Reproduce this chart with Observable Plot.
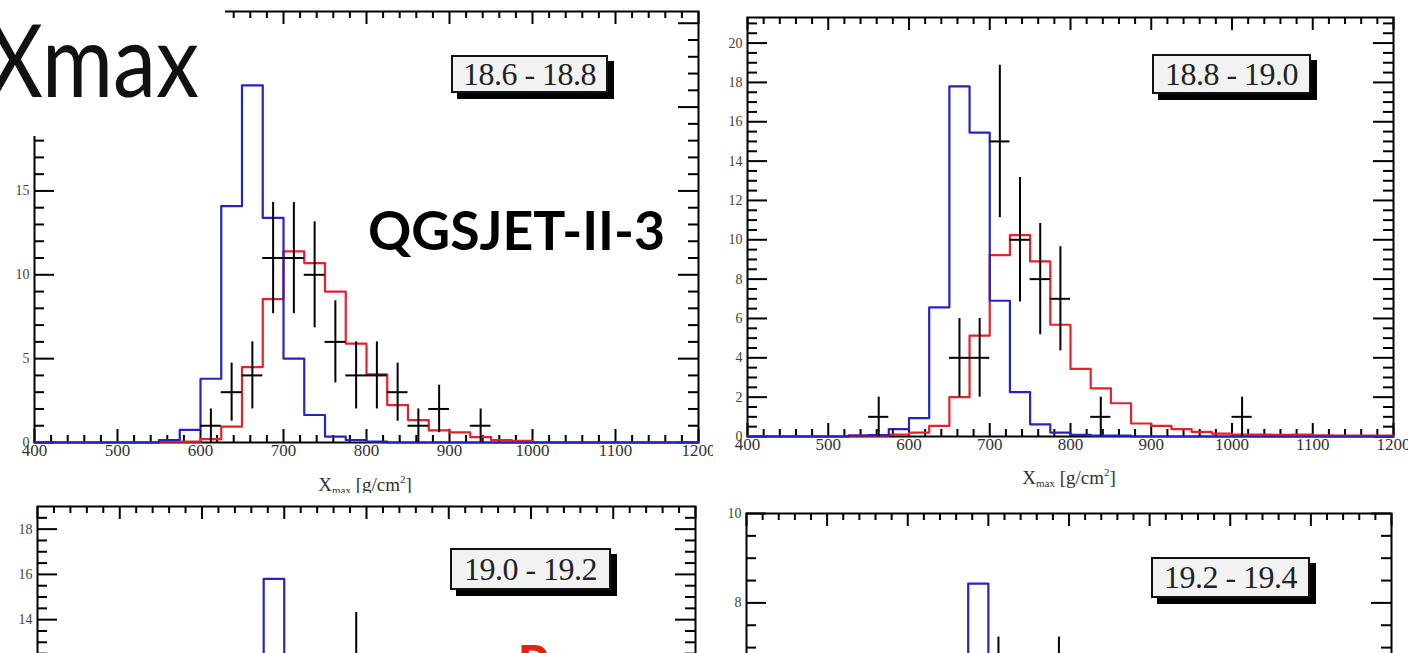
<!DOCTYPE html>
<html>
<head>
<meta charset="utf-8">
<script src="https://cdn.jsdelivr.net/npm/d3@7"></script>
<script src="https://cdn.jsdelivr.net/npm/@observablehq/plot@0.6"></script>
<style>
  html, body { margin: 0; padding: 0; background: #fff; }
  #slide { position: relative; width: 1408px; height: 653px; overflow: hidden; background: #fff; }
  .panel { position: absolute; background: #fff; }
  .panel svg { overflow: visible; display: block; max-width: none !important; }
  .xtitle { position: absolute; font-family: "Liberation Serif", "DejaVu Serif", serif; font-size: 19px; color: #333;
            transform: translateX(-50%); white-space: nowrap; line-height: 1; }
  .xtitle sub { font-size: 11px; vertical-align: -3px; }
  .xtitle sup { font-size: 11px; vertical-align: 8px; }
  .bin { position: absolute; box-sizing: border-box; border: 2px solid #111; background: #f2f2f2;
         box-shadow: 6px 6px 0 #000; font-family: "Liberation Serif", "DejaVu Serif", serif; font-size: 32px;
         color: #222; display: flex; align-items: center; justify-content: center; letter-spacing: -0.5px; }
  #overlay { position: absolute; left: 0; top: 0; pointer-events: none; }
</style>
</head>
<body>
<div id="slide"></div>
<script>
// Histogram binning in Xmax [g/cm^2]: 32 bins of 25 between 400 and 1200
const binLow = 400;
const binWidth = 25;
const xTickLabels = [400, 500, 600, 700, 800, 900, 1000, 1100, 1200];

// Energy ranges (lg E/eV) of the four panels
const rangeLabels = ["18.6 - 18.8", "18.8 - 19.0", "19.0 - 19.2", "19.2 - 19.4"];

// 18.6 - 18.8 : simulated proton (red), iron (blue), measured events (crosses)
const p1Blue = [0, 0, 0, 0, 0, 0, 0.15, 0.75, 3.8, 14.1, 21.3, 13.4, 5.0, 1.64, 0.35, 0.15,
                0.05, 0, 0, 0, 0, 0, 0, 0, 0, 0, 0, 0, 0, 0, 0, 0];
const p1Red  = [0, 0, 0, 0, 0, 0, 0.05, 0.05, 0.2, 0.95, 4.5, 8.55, 11.4, 10.7, 9.0, 5.9,
                4.07, 2.23, 1.34, 0.72, 0.6, 0.32, 0.15, 0.1, 0, 0, 0, 0, 0, 0, 0, 0];
const p1DataX = [612.5, 637.5, 662.5, 687.5, 712.5, 737.5, 762.5, 787.5, 812.5, 837.5, 862.5, 887.5, 937.5];
const p1DataN = [1, 3, 4, 11, 11, 10, 6, 4, 4, 3, 1, 2, 1];
const p1YTicks = [0, 5, 10, 15, 20, 25];

// 18.8 - 19.0
const p2Blue = [0, 0, 0, 0, 0, 0.05, 0.07, 0.37, 0.93, 6.56, 17.8, 15.45, 6.9, 2.26, 0.62, 0.2,
                0.08, 0.04, 0.04, 0, 0, 0, 0, 0, 0, 0, 0, 0, 0, 0, 0, 0];
const p2Red  = [0, 0, 0, 0, 0, 0.04, 0.04, 0.1, 0.2, 0.54, 2.0, 5.13, 9.22, 10.24, 8.9, 5.68,
                3.44, 2.45, 1.69, 0.66, 0.54, 0.37, 0.24, 0.15, 0.1, 0.1, 0.08, 0.1, 0.06, 0.05, 0.05, 0.05];
const p2DataX = [562.5, 662.5, 687.5, 712.5, 737.5, 762.5, 787.5, 837.5, 1012.5];
const p2DataN = [1, 4, 4, 15, 10, 8, 7, 1, 1];
const p2YTicks = [0, 2, 4, 6, 8, 10, 12, 14, 16, 18, 20];

// 19.0 - 19.2
const p3Blue = [0, 0, 0, 0, 0, 0, 0.05, 0.3, 1.1, 5.2, 11.6, 15.8, 9.8, 3.4, 0.9, 0.25,
                0.08, 0, 0, 0, 0, 0, 0, 0, 0, 0, 0, 0, 0, 0, 0, 0];
const p3Red  = [0, 0, 0, 0, 0, 0, 0.03, 0.08, 0.2, 0.8, 2.3, 5.4, 8.6, 9.9, 9.1, 6.8,
                4.5, 2.8, 1.7, 0.9, 0.5, 0.3, 0.15, 0.08, 0, 0, 0, 0, 0, 0, 0, 0];
const p3DataX = [662.5, 687.5, 712.5, 737.5, 762.5, 787.5, 812.5, 837.5, 862.5, 912.5];
const p3DataN = [2, 5, 8, 7, 6, 11, 5, 3, 2, 1];
const p3YTicks = [0, 2, 4, 6, 8, 10, 12, 14, 16, 18];

// 19.2 - 19.4
const p4Blue = [0, 0, 0, 0, 0, 0, 0, 0.1, 0.45, 2.9, 6.4, 8.43, 4.6, 1.5, 0.4, 0.1,
                0, 0, 0, 0, 0, 0, 0, 0, 0, 0, 0, 0, 0, 0, 0, 0];
const p4Red  = [0, 0, 0, 0, 0, 0, 0, 0, 0.1, 0.4, 1.2, 2.8, 4.3, 4.9, 4.4, 3.2,
                2.1, 1.3, 0.75, 0.4, 0.2, 0.1, 0, 0, 0, 0, 0, 0, 0, 0, 0, 0];
const p4DataX = [687.5, 712.5, 737.5, 762.5, 787.5, 812.5, 862.5];
const p4DataN = [2, 5, 4, 3, 5, 2, 1];
const p4YTicks = [0, 2, 4, 6, 8, 10];

const BLUE = "#2424c4";
const RED = "#e3222a";
const serif = "'Liberation Serif', 'DejaVu Serif', serif";

// Step outline of a histogram: one point per bin low edge plus the closing edge
function outline(values) {
  const pts = values.map((v, i) => ({x: binLow + i * binWidth, y: v}));
  pts.push({x: binLow + values.length * binWidth, y: values[values.length - 1]});
  return pts;
}

function histPanel(cfg) {
  const {width, height, mt, mr, mb, ml, ymax, yTicks, yMinorStep, blue, red, dataX, dataN} = cfg;
  const fh = height - mt - mb;
  const fw = width - ml - mr;
  const xMinor = d3.range(binLow, 1200.01, 20).filter(v => !xTickLabels.includes(v));
  const yMinor = d3.range(0, ymax, yMinorStep).filter(v => !yTicks.includes(v));
  const xMaj = 13, xMin = 7, yMaj = 20, yMin = 10;
  const data = dataX.map((x, i) => ({x, n: dataN[i]}));
  const tickStyle = {stroke: "#000", strokeWidth: 2};
  const plain = d => `${d}`;
  return Plot.plot({
    width, height,
    marginTop: mt, marginRight: mr, marginBottom: mb, marginLeft: ml,
    x: {domain: [400, 1200], label: null},
    y: {domain: [0, ymax], label: null},
    style: {background: "transparent", fontFamily: serif, color: "#333", overflow: "visible"},
    marks: [
      Plot.frame({stroke: "#000", strokeWidth: 2}),
      // inward ticks on all four sides
      Plot.tickX(xTickLabels, {x: d => d, insetTop: fh - xMaj, ...tickStyle}),
      Plot.tickX(xMinor, {x: d => d, insetTop: fh - xMin, ...tickStyle}),
      Plot.tickX(xTickLabels, {x: d => d, insetBottom: fh - xMaj, ...tickStyle}),
      Plot.tickX(xMinor, {x: d => d, insetBottom: fh - xMin, ...tickStyle}),
      Plot.tickY(yTicks, {y: d => d, insetRight: fw - yMaj, ...tickStyle}),
      Plot.tickY(yMinor, {y: d => d, insetRight: fw - yMin, ...tickStyle}),
      Plot.tickY(yTicks, {y: d => d, insetLeft: fw - yMaj, ...tickStyle}),
      Plot.tickY(yMinor, {y: d => d, insetLeft: fw - yMin, ...tickStyle}),
      Plot.axisX(xTickLabels, {anchor: "bottom", tickSize: 0, tickPadding: 1, label: null, fontSize: 17,
                               fill: "#333", tickFormat: plain}),
      Plot.axisY(yTicks, {anchor: "left", tickSize: 0, tickPadding: 5, label: null, fontSize: 14,
                          fill: "#4a4030", tickFormat: plain}),
      // simulated distributions
      Plot.line(outline(red), {x: "x", y: "y", curve: "step-after", stroke: RED, strokeWidth: 2.2}),
      Plot.line(outline(blue), {x: "x", y: "y", curve: "step-after", stroke: BLUE, strokeWidth: 2.2}),
      // measured counts with Poisson errors
      Plot.ruleX(data, {x: "x", y1: d => d.n - Math.sqrt(d.n), y2: d => d.n + Math.sqrt(d.n), stroke: "#000", strokeWidth: 2}),
      Plot.ruleY(data, {y: "n", x1: d => d.x - binWidth / 2, x2: d => d.x + binWidth / 2, stroke: "#000", strokeWidth: 2})
    ]
  });
}

const slide = document.getElementById("slide");

function place(node, left, top, w, h, cls) {
  const div = document.createElement("div");
  div.className = cls;
  Object.assign(div.style, {left: left + "px", top: top + "px", width: w + "px", height: h + "px"});
  if (node) div.append(node);
  slide.append(div);
  return div;
}

function xTitle(cx, top) {
  const d = document.createElement("div");
  d.className = "xtitle";
  d.innerHTML = "X<sub>max</sub> [g/cm<sup>2</sup>]";
  d.style.left = cx + "px";
  d.style.top = top + "px";
  slide.append(d);
}

function rangeBox(text, left, top, w, h) {
  const d = document.createElement("div");
  d.className = "bin";
  Object.assign(d.style, {left: left + "px", top: top + "px", width: w + "px", height: h + "px"});
  d.textContent = text;
  slide.append(d);
}

// top-left panel
place(histPanel({width: 730, height: 493, mt: 11, mr: 32, mb: 51, ml: 34, ymax: 25.7,
  yTicks: p1YTicks, yMinorStep: 1, blue: p1Blue, red: p1Red, dataX: p1DataX, dataN: p1DataN}),
  0, 0, 730, 493, "panel");
xTitle(365, 474);
rangeBox(rangeLabels[0], 451, 55, 157, 38);

// top-right panel
place(histPanel({width: 720, height: 493, mt: 17, mr: 40, mb: 57, ml: 34, ymax: 21.3,
  yTicks: p2YTicks, yMinorStep: 0.5, blue: p2Blue, red: p2Red, dataX: p2DataX, dataN: p2DataN}),
  713, 0, 695, 493, "panel");
xTitle(1069, 467);
rangeBox(rangeLabels[1], 1152, 54, 159, 40);

// bottom-left panel
place(histPanel({width: 730, height: 490, mt: 13, mr: 35, mb: 47, ml: 37, ymax: 19,
  yTicks: p3YTicks, yMinorStep: 0.5, blue: p3Blue, red: p3Red, dataX: p3DataX, dataN: p3DataN}),
  0, 493, 713, 490, "panel");
rangeBox(rangeLabels[2], 450, 548, 161, 42);

// bottom-right panel
place(histPanel({width: 720, height: 520, mt: 20, mr: 42, mb: 53, ml: 33, ymax: 10,
  yTicks: p4YTicks, yMinorStep: 0.5, blue: p4Blue, red: p4Red, dataX: p4DataX, dataN: p4DataN}),
  713, 493, 695, 520, "panel");
rangeBox(rangeLabels[3], 1151, 557, 159, 41);

// slide title, model name and annotation overlay
const ns = "http://www.w3.org/2000/svg";
const ov = document.createElementNS(ns, "svg");
ov.setAttribute("id", "overlay");
ov.setAttribute("width", 1408);
ov.setAttribute("height", 653);
ov.innerHTML = `
  <rect x="0" y="0" width="225" height="136" fill="#fff"/>
  <text x="-13" y="97" font-family="Lato, 'Open Sans', sans-serif" font-size="100" fill="#111"
        textLength="212" lengthAdjust="spacingAndGlyphs">Xmax</text>
  <text x="368" y="250" font-family="Lato, 'Open Sans', sans-serif" font-weight="700" font-size="54" fill="#000"
        textLength="297" lengthAdjust="spacingAndGlyphs">QGSJET-II-3</text>
  <text x="518" y="680" font-family="Lato, sans-serif" font-weight="900" font-size="48" fill="#e8200c">P</text>`;
slide.append(ov);
</script>
</body>
</html>
